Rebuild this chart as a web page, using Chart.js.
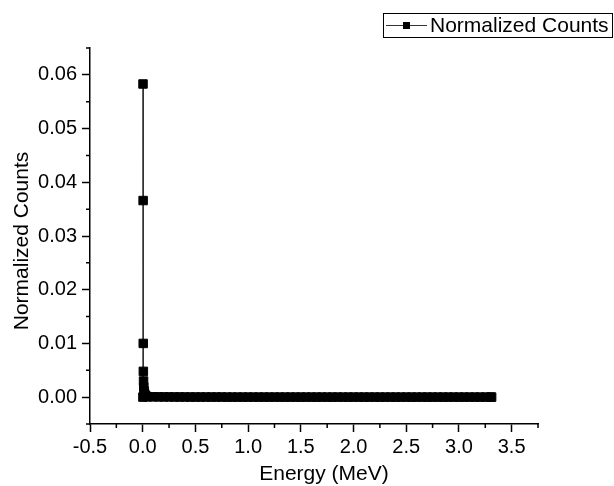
<!DOCTYPE html>
<html>
<head>
<title>Normalized Counts</title>
<meta charset="UTF-8">
<script src="https://cdn.jsdelivr.net/npm/chart.js"></script>
<style>
  html, body { margin: 0; padding: 0; background: #fff; }
  #wrap { width: 614px; height: 486px; position: relative; }
</style>
</head>
<body>
<div id="wrap"><canvas id="spectrum"></canvas></div>
<script>
// energy bins (MeV) and normalized counts
const energy = [
  0.002, 0.003, 0.004, 0.005, 0.006, 0.008, 0.010, 0.013, 0.016, 0.020, 0.025, 0.030, 0.040,
  0.05, 0.10, 0.15, 0.20, 0.25, 0.30, 0.35, 0.40, 0.45, 0.50, 0.55, 0.60, 0.65, 0.70,
  0.75, 0.80, 0.85, 0.90, 0.95, 1.00, 1.05, 1.10, 1.15, 1.20, 1.25, 1.30, 1.35, 1.40,
  1.45, 1.50, 1.55, 1.60, 1.65, 1.70, 1.75, 1.80, 1.85, 1.90, 1.95, 2.00, 2.05, 2.10,
  2.15, 2.20, 2.25, 2.30, 2.35, 2.40, 2.45, 2.50, 2.55, 2.60, 2.65, 2.70, 2.75, 2.80,
  2.85, 2.90, 2.95, 3.00, 3.05, 3.10, 3.15, 3.20, 3.25, 3.30, 3.31
];
const counts = [
  0.00001, 0.0583, 0.0366, 0.0100, 0.0048, 0.0030, 0.0019, 0.0012, 0.0008, 0.0005, 0.0003, 0.0002, 0.0001,
  0.00008, 0.00006, 0.00005, 0.00004, 0.00004, 0.00003, 0.00003, 0.00003, 0.00002, 0.00002, 0.00002, 0.00002, 0.00002, 0.00002,
  0.00002, 0.00001, 0.00001, 0.00001, 0.00001, 0.00001, 0.00001, 0.00001, 0.00001, 0.00001, 0.00001, 0.00001, 0.00001, 0.00001,
  0.00001, 0.00001, 0.00001, 0.00001, 0.00001, 0.00001, 0.00001, 0.00001, 0.00001, 0.00001, 0.00001, 0.00001, 0.00001, 0.00001,
  0.00001, 0.00001, 0.00001, 0.00001, 0.00001, 0.00001, 0.00001, 0.00001, 0.00001, 0.00001, 0.00001, 0.00001, 0.00001, 0.00001,
  0.00001, 0.00001, 0.00001, 0.00001, 0.00001, 0.00001, 0.00001, 0.00001, 0.00001, 0.00001, 0.00001
];
const seriesName = "Normalized Counts";
const xTitle = "Energy (MeV)";
const yTitle = "Normalized Counts";
const xTicks = [-0.5, 0.0, 0.5, 1.0, 1.5, 2.0, 2.5, 3.0, 3.5];
const yTicks = [0.00, 0.01, 0.02, 0.03, 0.04, 0.05, 0.06];
const xMinorTicks = [-0.25, 0.25, 0.75, 1.25, 1.75, 2.25, 2.75, 3.25, 3.75];
const yMinorTicks = [-0.005, 0.005, 0.015, 0.025, 0.035, 0.045, 0.055, 0.065];

const FONT = "'Liberation Sans', Arial, sans-serif";

// short minor ticks, axis titles and the boxed legend, Origin style
const extras = {
  id: "extras",
  afterDraw(chart) {
    const ctx = chart.ctx;
    const xs = chart.scales.x, ys = chart.scales.y;
    const area = chart.chartArea;
    ctx.save();
    ctx.strokeStyle = "#000";
    ctx.lineWidth = 1.5;
    ctx.beginPath();
    xMinorTicks.forEach(v => {
      const px = xs.getPixelForValue(v);
      ctx.moveTo(px, area.bottom);
      ctx.lineTo(px, area.bottom + 4);
    });
    yMinorTicks.forEach(v => {
      const py = ys.getPixelForValue(v);
      ctx.moveTo(area.left, py);
      ctx.lineTo(area.left - 4, py);
    });
    ctx.stroke();

    // axis titles
    ctx.fillStyle = "#000";
    ctx.font = "21px " + FONT;
    ctx.textAlign = "center";
    ctx.textBaseline = "alphabetic";
    ctx.fillText(xTitle, 324, 479.5);
    ctx.save();
    ctx.translate(28, 241);
    ctx.rotate(-Math.PI / 2);
    ctx.fillText(yTitle, 0, 0);
    ctx.restore();

    // legend
    ctx.lineWidth = 1;
    ctx.strokeRect(383.5, 13.5, 229, 24);
    ctx.strokeStyle = "#333";
    ctx.beginPath();
    ctx.moveTo(386, 25.5);
    ctx.lineTo(427, 25.5);
    ctx.stroke();
    ctx.fillRect(403, 22, 7, 7);
    ctx.textBaseline = "middle";
    ctx.textAlign = "left";
    ctx.fillText(seriesName, 430, 26);
    ctx.restore();
  }
};

new Chart(document.getElementById("spectrum"), {
  type: "scatter",
  data: {
    datasets: [{
      label: seriesName,
      data: energy.map((e, i) => ({ x: e, y: counts[i] })),
      showLine: true,
      borderColor: "#333",
      borderWidth: 1,
      pointStyle: "rect",
      pointRadius: 6,
      pointBorderWidth: 1,
      pointBackgroundColor: "#000",
      pointBorderColor: "#000"
    }]
  },
  options: {
    responsive: true,
    maintainAspectRatio: false,
    animation: false,
    layout: { padding: { top: 48, right: 76, left: 0, bottom: 0 } },
    plugins: {
      legend: { display: false },
      tooltip: { enabled: false }
    },
    scales: {
      x: {
        type: "linear",
        min: -0.5,
        max: 3.75,
        afterBuildTicks(scale) { scale.ticks = xTicks.map(v => ({ value: v })); },
        afterFit(scale) { scale.height = 62; },
        ticks: {
          color: "#000",
          font: { family: FONT, size: 20 },
          padding: 3,
          maxRotation: 0,
          autoSkip: false,
          callback: v => v.toFixed(1)
        },
        grid: { drawOnChartArea: false, drawTicks: true, tickLength: 8, tickColor: "#000", tickWidth: 1.5 },
        border: { color: "#000", width: 1.5 }
      },
      y: {
        type: "linear",
        min: -0.005,
        max: 0.065,
        afterBuildTicks(scale) { scale.ticks = yTicks.map(v => ({ value: v })); },
        afterFit(scale) { scale.width = 90; },
        ticks: {
          color: "#000",
          font: { family: FONT, size: 20 },
          padding: 5,
          autoSkip: false,
          callback: v => v.toFixed(2)
        },
        grid: { drawOnChartArea: false, drawTicks: true, tickLength: 8, tickColor: "#000", tickWidth: 1.5 },
        border: { color: "#000", width: 1.5 }
      }
    }
  },
  plugins: [extras]
});
</script>
</body>
</html>
